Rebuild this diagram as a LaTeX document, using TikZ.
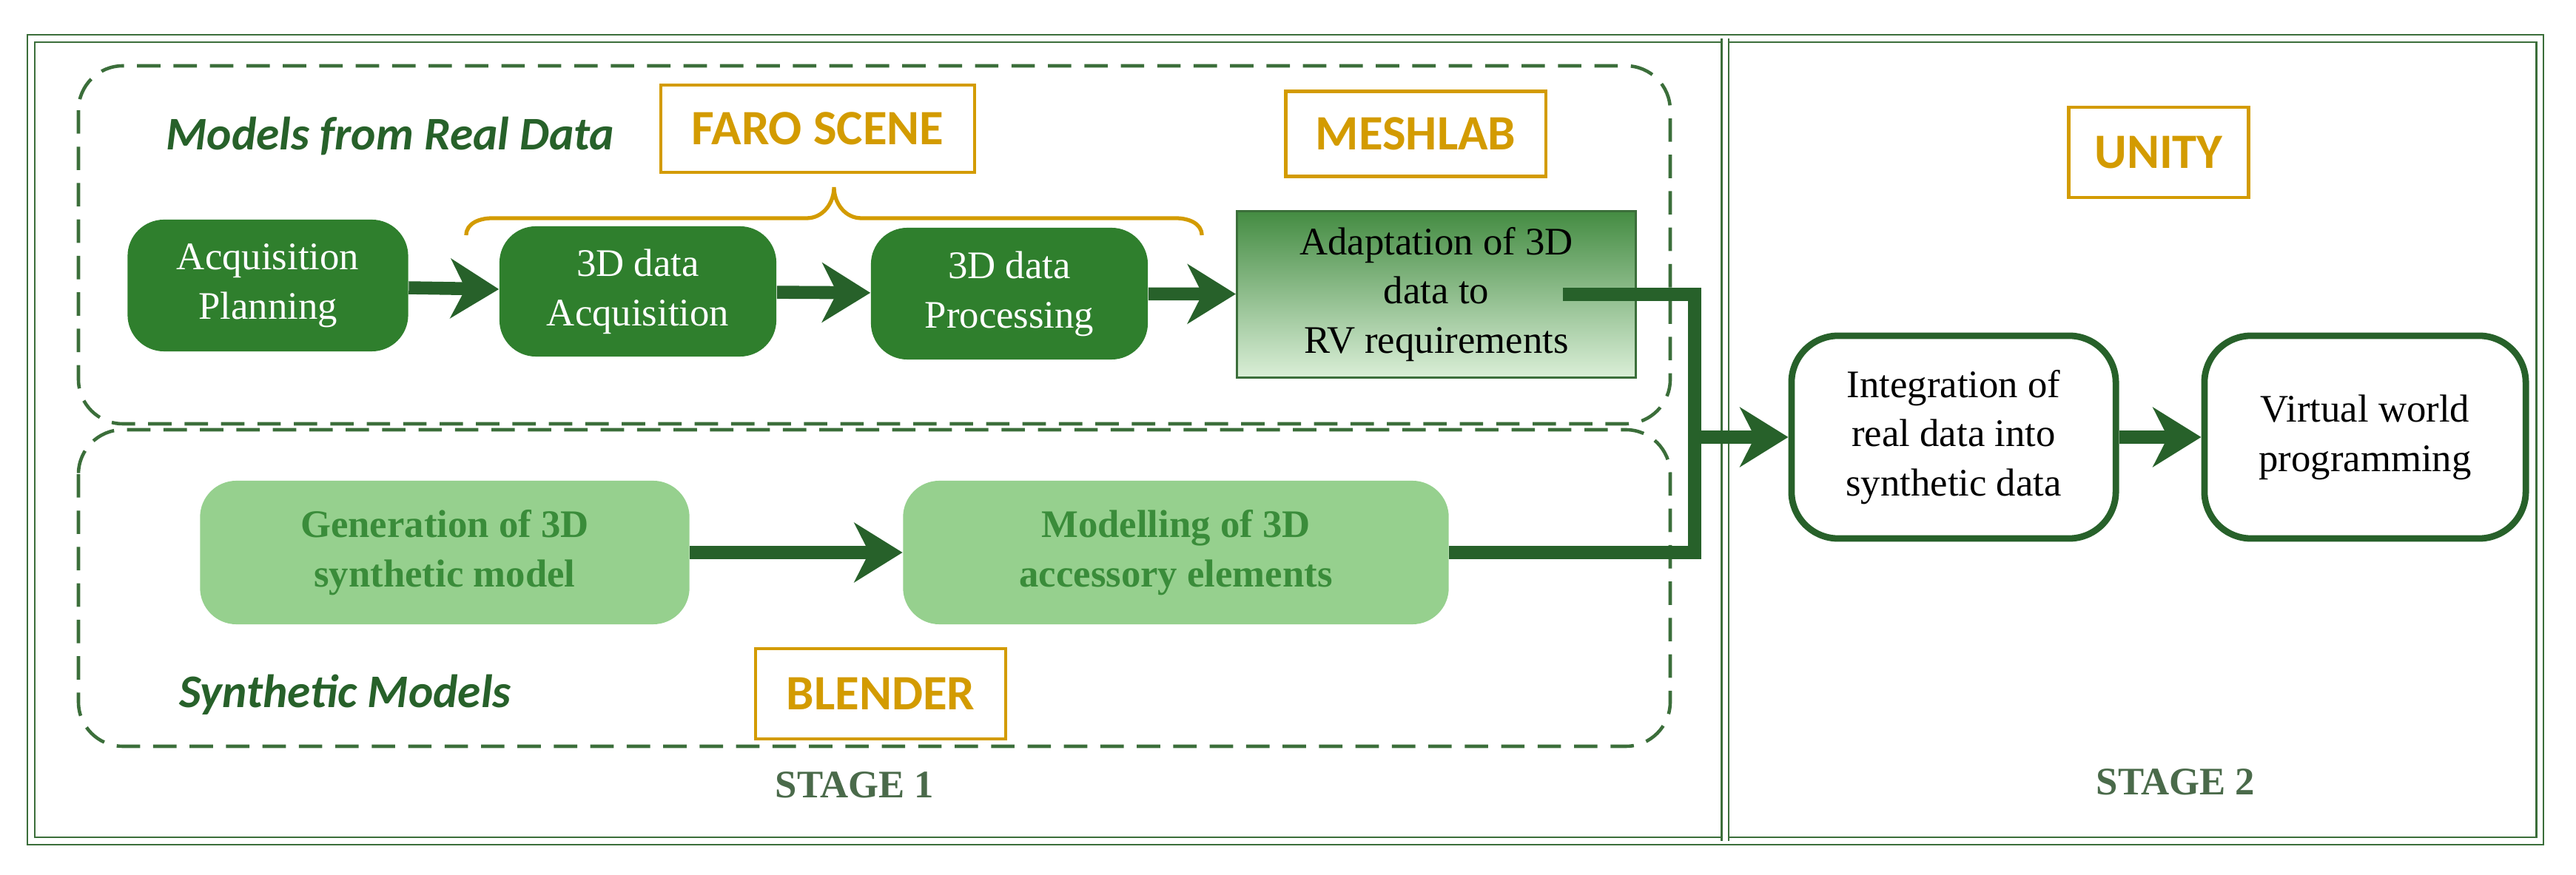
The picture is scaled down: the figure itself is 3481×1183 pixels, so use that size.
\documentclass[tikz,border=0pt]{standalone}
\usepackage{fontspec}
\setmainfont{Liberation Serif}
\newfontfamily\lab{Carlito}
\usetikzlibrary{arrows.meta,calc}
\definecolor{dg}{HTML}{2F7F2D}
\definecolor{ag}{HTML}{27612A}
\definecolor{fg}{HTML}{3B6E3A}
\definecolor{lg}{HTML}{96D08E}
\definecolor{lt}{HTML}{3A8C3A}
\definecolor{gold}{HTML}{D39B00}
\definecolor{st}{HTML}{4A6A4A}
\begin{document}
\begin{tikzpicture}[x=0.01cm,y=-0.01cm,
  box/.style={rounded corners=14pt,align=center,font=\fontsize{15}{19}\selectfont,inner sep=0pt},
  dbox/.style={box,fill=dg,text=white},
  lbox/.style={box,fill=lg,text=lt,font=\bfseries\fontsize{15}{19}\selectfont},
  wbox/.style={box,draw=ag,line width=2.5pt,fill=white,rounded corners=18pt},
  tool/.style={draw=gold,line width=1.2pt,text=gold,font=\lab\bfseries\fontsize{19}{22}\selectfont,inner sep=0pt},
  arr/.style={draw=ag,line width=5pt,-{Stealth[length=0.65cm,width=0.8cm,inset=0.2cm]}},
  conn/.style={draw=ag,line width=5pt},
  grp/.style={draw=fg,line width=1.3pt,dash pattern=on 9pt off 5pt,rounded corners=0.6cm},
  frame/.style={draw=fg,line width=0.6pt,double=white,double distance=2pt},
  ital/.style={text=ag,font=\lab\bfseries\itshape\fontsize{18}{22}\selectfont},
  stage/.style={text=st,font=\bfseries\fontsize{15}{18}\selectfont}]
\useasboundingbox (0,0) rectangle (3481,1183);
\draw[frame] (42,52) rectangle (3432,1137);
\draw[frame] (2331,52) -- (2331,1137);
\draw[grp] (106,89) rectangle (2257,573);
\draw[grp] (106,581) rectangle (2257,1009);
\node[ital,anchor=west] (mrd) at (212,184) {Models from Real Data};
\node[ital,anchor=west] (sm) at (230,939) {Synthetic Models};
\node[tool,minimum width=4.24cm,minimum height=1.18cm] (faro) at (1105,174) {FARO SCENE};
\node[tool,minimum width=3.51cm,minimum height=1.15cm] (mesh) at (1913,181) {MESHLAB};
\node[tool,minimum width=2.43cm,minimum height=1.22cm] (unity) at (2917,206) {UNITY};
\node[tool,minimum width=3.38cm,minimum height=1.22cm] (blend) at (1190,938) {BLENDER};
\draw[gold,line width=1.5pt] (630,318) to[out=90,in=180] (665,295) -- (1090,295) to[out=0,in=-90] (1127,253)
  to[out=-90,in=180] (1164,295) -- (1589,295) to[out=0,in=90] (1624,318);
\node[dbox,minimum width=3.79cm,minimum height=1.78cm] (ap) at (362,386) {Acquisition\\Planning};
\node[dbox,minimum width=3.74cm,minimum height=1.76cm] (da) at (862,394) {3D data\\Acquisition};
\node[dbox,minimum width=3.74cm,minimum height=1.78cm] (dp) at (1364,397) {3D data\\Processing};
\node[align=center,font=\fontsize{15}{19}\selectfont,draw=fg,line width=0.8pt,top color=dg!90,bottom color=lg!35,minimum width=5.39cm,minimum height=2.25cm,inner sep=0pt] (ad) at (1941,398) {Adaptation of 3D\\data to\\RV requirements};
\node[lbox,minimum width=6.61cm,minimum height=1.94cm] (gen) at (601,747) {Generation of 3D\\synthetic model};
\node[lbox,minimum width=7.37cm,minimum height=1.94cm] (mod) at (1589,747) {Modelling of 3D\\accessory elements};
\node[wbox,minimum width=4.38cm,minimum height=2.74cm] (int) at (2640,591) {Integration of\\real data into\\synthetic data};
\node[wbox,minimum width=4.34cm,minimum height=2.74cm] (vw) at (3196,591) {Virtual world\\programming};
\node[stage] (s1) at (1155,1061) {STAGE 1};
\node[stage] (s2) at (2940,1057) {STAGE 2};
\coordinate (j) at (2290,591);
\draw[arr] (ap) -- (da);
\draw[arr] (da) -- (dp);
\draw[arr] (dp) -- (ad);
\draw[arr] (gen) -- (mod);
\draw[conn] ([xshift=-1cm]ad.east) -| (j);
\draw[conn] (mod.east) -| (j);
\draw[arr] ([xshift=-2.5pt]j) -- (int.west);
\draw[arr] (int) -- (vw);
\end{tikzpicture}
\end{document}
